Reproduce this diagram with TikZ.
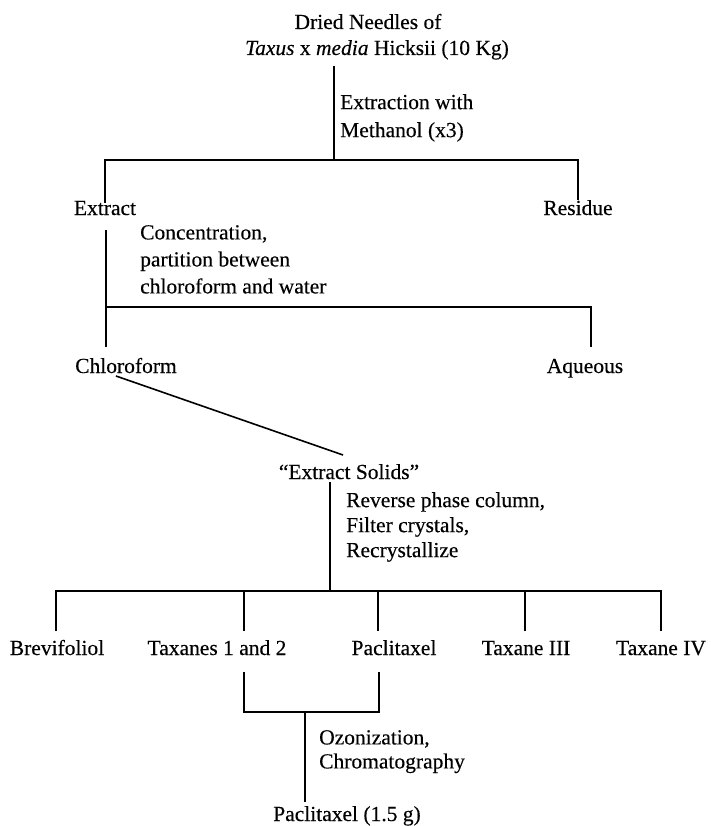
\documentclass[tikz,border=0pt]{standalone}
\usepackage{fontspec}
\setmainfont{Liberation Serif}[FakeBold=0.3]
\begin{document}
\begin{tikzpicture}[x=1pt,y=-1pt,
  lbl/.style={inner sep=0pt, font=\fontsize{21.5}{24}\selectfont, anchor=base},
  note/.style={inner sep=0pt, align=left, anchor=north west},
  ln/.style={line width=1.6pt, black}]
\useasboundingbox (0,0) rectangle (710,826);
% text nodes
\node[lbl] (t1) at (368,29) {Dried Needles of};
\node[lbl] (t2) at (377,55) {\textit{Taxus} x \textit{media} Hicksii (10 Kg)};
\node[note, font=\fontsize{21.5}{28}\selectfont] (n1) at (340,94) {Extraction with\\Methanol (x3)};
\node[lbl] (extract) at (105,215) {Extract};
\node[lbl] (residue) at (578,215) {Residue};
\node[note, font=\fontsize{21.5}{27}\selectfont] (n2) at (140,225) {Concentration,\\partition between\\chloroform and water};
\node[lbl] (chloro) at (126,373) {Chloroform};
\node[lbl] (aqueous) at (585,373) {Aqueous};
\node[lbl] (solids) at (349,479) {“Extract Solids”};
\node[note, font=\fontsize{21.5}{25}\selectfont] (n3) at (346,492) {Reverse phase column,\\Filter crystals,\\Recrystallize};
\node[lbl] (brev) at (57,655) {Brevifoliol};
\node[lbl] (tax12) at (217,655) {Taxanes 1 and 2};
\node[lbl] (pac) at (394,655) {Paclitaxel};
\node[lbl] (tax3) at (526,655) {Taxane III};
\node[lbl] (tax4) at (661,655) {Taxane IV};
\node[note, font=\fontsize{21.5}{24}\selectfont] (n4) at (319,730) {Ozonization,\\Chromatography};
\node[lbl] (final) at (347,821) {Paclitaxel (1.5 g)};
% junction coordinates
\coordinate (s1top) at (334,66);
\coordinate (j1) at (334,160);
\coordinate (a1) at (105,203);
\coordinate (b1) at (578,200);
\coordinate (s2top) at (106,230);
\coordinate (j2) at (106,307);
\coordinate (s2bot) at (106,347);
\coordinate (r2) at (591,347);
\coordinate (d1) at (116,376);
\coordinate (d2) at (343,455);
\coordinate (s3top) at (330,482);
\coordinate (j3) at (330,591);
\coordinate (p1) at (56,631);
\coordinate (p2) at (244,631);
\coordinate (p3) at (378,631);
\coordinate (p4) at (525,631);
\coordinate (p5) at (661,631);
\coordinate (q1) at (244,672);
\coordinate (q2) at (379,672);
\coordinate (j4) at (305,712);
\coordinate (s4bot) at (305,802);
% connectors
\draw[ln] (s1top) -- (j1);
\draw[ln] (a1) -- (a1 |- j1) -- (b1 |- j1) -- (b1);
\draw[ln] (s2top) -- (s2bot);
\draw[ln] (j2) -| (r2);
\draw[ln] (d1) -- (d2);
\draw[ln] (s3top) -- (j3);
\draw[ln] (p1) -- (p1 |- j3) -- (p5 |- j3) -- (p5);
\draw[ln] (p2) -- (p2 |- j3);
\draw[ln] (p3) -- (p3 |- j3);
\draw[ln] (p4) -- (p4 |- j3);
\draw[ln] (q1) -- (q1 |- j4) -- (q2 |- j4) -- (q2);
\draw[ln] (j4) -- (s4bot);
\end{tikzpicture}
\end{document}
